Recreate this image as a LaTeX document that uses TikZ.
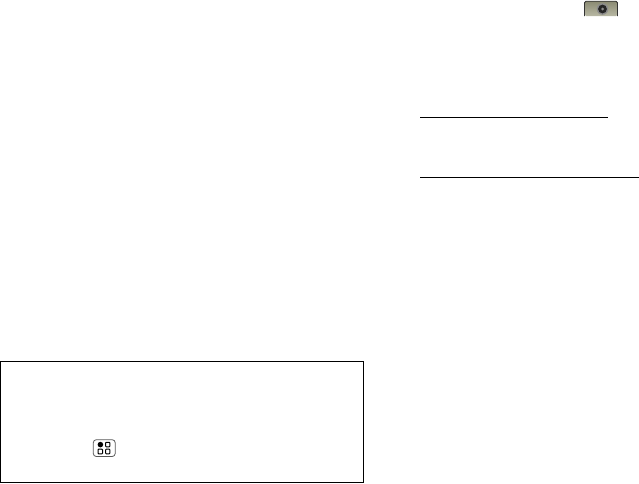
\documentclass[tikz,border=0pt]{standalone}
\tikzset{
  rulestroke/.style={line width=1.3pt,black},
  iconring/.style={line width=1pt,black,fill=white,rounded corners=0.7pt},
}
\definecolor{camtop}{HTML}{8A8A72}
\definecolor{cambot}{HTML}{B8B8A4}
\begin{document}
\begin{tikzpicture}[x=1pt,y=-1pt]
\useasboundingbox[fill=white] (0,0) rectangle (639,483);
% rules
\coordinate (r1a) at (420,117.3);
\coordinate (r1b) at (608,117.3);
\coordinate (r2a) at (420,177.3);
\coordinate (r2b) at (639,177.3);
\draw[rulestroke] (r1a) -- (r1b);
\draw[rulestroke] (r2a) -- (r2b);
% box
\draw[line width=1.2pt,black] (0.7,361.7) rectangle (363.4,482.5);
% menu icon
\draw[line width=0.8pt,black!65,rounded corners=3pt] (93.3,439.7) rectangle (115.2,456.5);
\fill[black] (100.4,444.6) circle (2.8);
\draw[iconring] (105.6,442.3) rectangle (109.9,446.8);
\draw[iconring] (98,449.2) rectangle (102.6,453.8);
\draw[iconring] (105.6,449.2) rectangle (109.9,453.8);
% camera icon
\shade[top color=camtop,bottom color=cambot,rounded corners=1.5pt] (584.5,1) rectangle (617.5,16);
\draw[line width=0.8pt,black!80,rounded corners=1.5pt] (584.5,16) -- (584.5,1.2) -- (617.5,1.2) -- (617.5,16);
\fill[black!45] (602.5,9) circle (5.8);
\fill[black!85] (602.5,9) circle (4.4);
\fill[black!45] (602.5,9) circle (1.5);
\end{tikzpicture}
\end{document}
